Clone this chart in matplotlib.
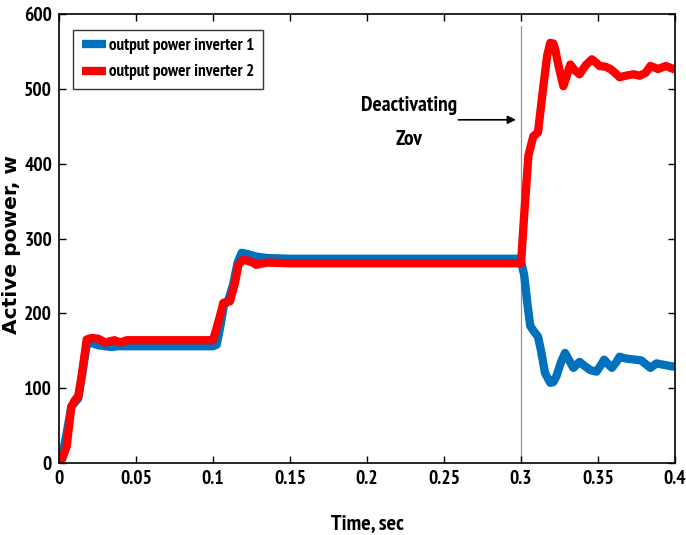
import matplotlib
matplotlib.use("Agg")
import matplotlib.pyplot as plt

# Time (s) and active power (W) for each inverter
t_inv1 = [0.000, 0.002, 0.005, 0.008, 0.010, 0.0125, 0.015, 0.018, 0.020, 0.023, 0.026,
          0.030, 0.034, 0.038, 0.042, 0.050, 0.060, 0.070, 0.080, 0.090, 0.100,
          0.1024, 0.105, 0.107, 0.110, 0.113, 0.116, 0.1186, 0.123, 0.128, 0.135,
          0.150, 0.200, 0.250, 0.2995,
          0.302, 0.304, 0.306, 0.309, 0.311, 0.313, 0.3156, 0.319, 0.321, 0.323,
          0.326, 0.3286, 0.331, 0.334, 0.338, 0.341, 0.345, 0.349, 0.352, 0.354,
          0.357, 0.359, 0.362, 0.364, 0.367, 0.370, 0.374, 0.378, 0.381, 0.384,
          0.388, 0.393, 0.398, 0.400]
p_inv1 = [0, 8, 40, 75, 80, 86, 118, 158, 161, 159, 157,
          156, 155, 156, 156, 156, 156, 156, 156, 156, 156,
          158, 185, 210, 218, 238, 268, 281, 279, 276, 274,
          273, 273, 273, 273,
          252, 215, 183, 174, 169, 150, 120, 107, 108, 116,
          135, 147, 138, 127, 135, 130, 124, 122, 131, 138,
          131, 127, 135, 142, 140, 139, 138, 137, 132, 127,
          133, 131, 129, 129]

t_inv2 = [0.000, 0.002, 0.005, 0.008, 0.0104, 0.0125, 0.0147, 0.018, 0.0212, 0.0255,
          0.030, 0.036, 0.040, 0.044, 0.050, 0.060, 0.070, 0.080, 0.090, 0.100,
          0.1002, 0.1045, 0.1067, 0.111, 0.1143, 0.1165, 0.1197, 0.126, 0.128, 0.135,
          0.150, 0.200, 0.250, 0.300,
          0.302, 0.3048, 0.308, 0.311, 0.3145, 0.317, 0.319, 0.321, 0.322, 0.3245,
          0.3275, 0.330, 0.332, 0.335, 0.338, 0.342, 0.346, 0.349, 0.351, 0.355,
          0.358, 0.361, 0.364, 0.368, 0.373, 0.377, 0.381, 0.384, 0.389, 0.394,
          0.399, 0.400]
p_inv2 = [0, 5, 22, 75, 84, 89, 116, 165, 167, 166,
          161, 164, 161, 164, 164, 164, 164, 164, 164, 164,
          165, 196, 214, 216, 241, 265, 272, 268, 265, 268,
          267, 267, 267, 267,
          330, 411, 437, 442, 504, 545, 562, 561, 555, 530,
          504, 520, 533, 525, 520, 532, 540, 535, 531, 530,
          527, 522, 516, 518, 520, 518, 522, 531, 527, 531,
          527, 527]

x_ticks = [0, 0.05, 0.1, 0.15, 0.2, 0.25, 0.3, 0.35, 0.4]
x_tick_labels = ["0", "0.05", "0.1", "0.15", "0.2", "0.25", "0.3", "0.35", "0.4"]
y_ticks = [0, 100, 200, 300, 400, 500, 600]

narrow = ["PT Sans Narrow", "DejaVu Sans"]
wide = ["DejaVu Sans"]

fig = plt.figure(figsize=(6.86, 5.35), dpi=100)
ax = fig.add_axes([0.086, 0.135, 0.898, 0.838])

ax.plot(t_inv1, p_inv1, color="#0072BD", lw=6, solid_capstyle="round",
        solid_joinstyle="round", label="output power inverter 1")
ax.plot(t_inv2, p_inv2, color="#FF0000", lw=6, solid_capstyle="round",
        solid_joinstyle="round", label="output power inverter 2")

ax.axvline(0.3, ymin=0.0, ymax=0.975, color="#909090", lw=0.9, zorder=0)

ax.set_xlim(0, 0.4)
ax.set_ylim(0, 600)
ax.set_xticks(x_ticks)
ax.set_xticklabels(x_tick_labels)
ax.set_yticks(y_ticks)
ax.tick_params(direction="in", top=True, right=True, length=5, width=1, pad=5)
for lab in ax.get_xticklabels() + ax.get_yticklabels():
    lab.set_fontfamily(narrow)
    lab.set_fontweight("bold")
    lab.set_fontsize(14)
for s in ax.spines.values():
    s.set_linewidth(1.2)

ax.set_xlabel("Time, sec", fontfamily=narrow, fontweight="bold", fontsize=16)
ax.xaxis.set_label_coords(0.5, -0.115)
ax.set_ylabel("Active power, w", fontfamily=wide, fontweight="bold", fontsize=14.5)
ax.yaxis.set_label_coords(-0.062, 0.487)

leg = ax.legend(loc="upper left", bbox_to_anchor=(0.023, 0.966), frameon=True,
                fancybox=False, edgecolor="black", handlelength=1.45,
                handletextpad=0.15, borderpad=0.5, labelspacing=0.6,
                borderaxespad=0.0,
                prop={"family": narrow, "size": 12.3, "weight": "bold"})
leg.get_frame().set_linewidth(1.0)
for line in leg.get_lines():
    line.set_linewidth(6)
    line.set_solid_capstyle("butt")

ax.annotate("", xy=(0.2985, 459), xytext=(0.2575, 459),
            arrowprops=dict(arrowstyle="-|>", color="black", lw=1.2, mutation_scale=12))
ax.text(0.2275, 478, "Deactivating", ha="center", va="center",
        fontfamily=narrow, fontweight="bold", fontsize=15.5)
ax.text(0.2275, 433, "Zov", ha="center", va="center",
        fontfamily=narrow, fontweight="bold", fontsize=15.5)

fig.savefig("out.png", dpi=100)
